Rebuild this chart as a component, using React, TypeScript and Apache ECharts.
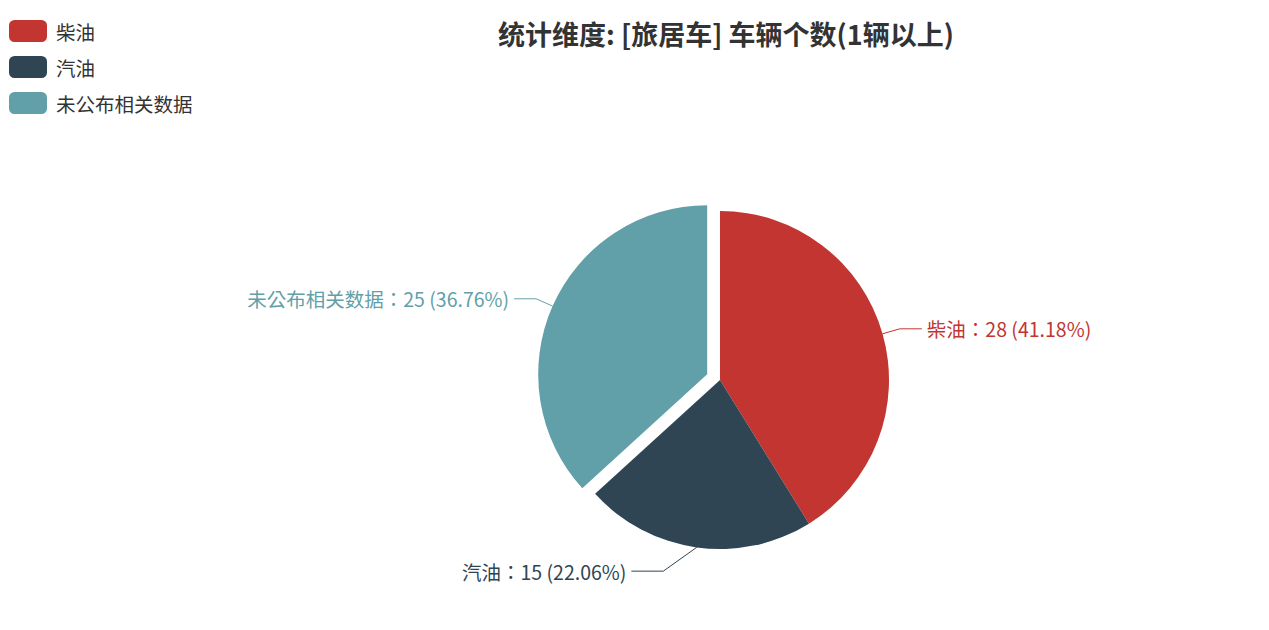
import React, { useEffect, useRef } from 'react'
import * as echarts from 'echarts'

const categories = ['柴油', '汽油', '未公布相关数据']
const counts = [28, 15, 25]
const colors = ['#c23531', '#2f4554', '#61a0a8']
const selectedName = '未公布相关数据'
const titleText = '统计维度: [旅居车] 车辆个数(1辆以上)'

export default function App() {
  const chartRef = useRef<HTMLDivElement>(null)

  useEffect(() => {
    if (!chartRef.current) return
    const chart = echarts.init(chartRef.current, null, { renderer: 'svg' })
    const font = '"Noto Sans CJK SC", "Noto Sans", sans-serif'
    // TC 字体的全角冒号居中, 更接近原图
    const labelFont = '"Noto Sans CJK TC", "Noto Sans CJK SC", sans-serif'

    chart.setOption({
      animation: false,
      color: colors,
      textStyle: { fontFamily: font },
      title: {
        text: titleText,
        left: 721,
        textAlign: 'center',
        top: 15,
        textStyle: { fontSize: 27, fontWeight: 'bold', color: '#333', fontFamily: font }
      },
      legend: {
        orient: 'vertical',
        left: 4,
        top: 15,
        itemWidth: 38,
        itemHeight: 22,
        itemGap: 14,
        icon: 'roundRect',
        data: categories,
        textStyle: { fontSize: 19.5, color: '#333', fontFamily: font, padding: [0, 0, 0, 4] }
      },
      series: [
        {
          type: 'pie',
          center: [720, 380],
          radius: 169,
          selectedMode: 'single',
          selectedOffset: 14,
          data: categories.map((name, i) => ({
            name,
            value: counts[i],
            selected: name === selectedName,
            label: { color: colors[i] },
            // 汽油的引导线在原图中更长
            labelLine: name === '汽油' ? { length: 24, length2: 62 } : undefined
          })),
          label: {
            formatter: '{b}：{c} ({d}%)',
            fontSize: 19.5,
            fontFamily: labelFont
          },
          labelLine: { length: 18, length2: 22 },
          // 汽油: 把拐点移到靠近文字的位置, 形成斜线
          labelLayout: (params: any) => {
            const pts = params.labelLinePoints
            if (params.dataIndex !== 1 || !pts || pts.length < 3) return {}
            return {
              labelLinePoints: [pts[0], [pts[2][0] + 32, pts[1][1]], pts[2]]
            }
          },
          emphasis: { scale: false }
        }
      ]
    })

    return () => chart.dispose()
  }, [])

  return (
    <div
      ref={chartRef}
      style={{ position: 'fixed', left: 0, top: 0, width: 1269, height: 630, background: '#fff' }}
    />
  )
}
